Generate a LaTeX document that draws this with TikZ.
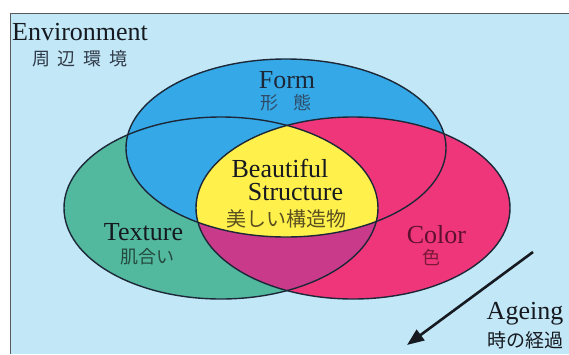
\documentclass[tikz,border=0pt]{standalone}
\usepackage{fontspec}
\setmainfont{Liberation Serif}
\newfontfamily\jp{Noto Sans CJK JP}
\usetikzlibrary{arrows.meta}
\definecolor{bgblue}{HTML}{C2E7F7}
\definecolor{formblue}{HTML}{35A9E8}
\definecolor{texgreen}{HTML}{52B89E}
\definecolor{colred}{HTML}{F0367A}
\definecolor{mixmag}{HTML}{C93A8A}
\definecolor{beauty}{HTML}{FFF04C}
\definecolor{outline}{HTML}{1C2838}
\definecolor{txtdark}{HTML}{161A20}
\definecolor{jpblue}{HTML}{2E4C68}
\definecolor{jpgreen}{HTML}{244A3E}
\definecolor{jpred}{HTML}{7A1838}
\definecolor{jpyel}{HTML}{5A5020}
\definecolor{jpbg}{HTML}{303A48}
\definecolor{colortxt}{HTML}{5E1030}
\begin{document}
\begin{tikzpicture}[x=1pt,y=-1pt,
  lab/.style={font=\fontsize{26}{28}\selectfont, inner sep=0pt, text=txtdark},
  jlab/.style={font=\jp\fontsize{18}{20}\selectfont, inner sep=0pt},
  rim/.style={draw=outline, line width=1.4pt}]
\useasboundingbox (0,0) rectangle (569,354);
% background
\fill[white] (0,0) rectangle (569,354);
\fill[bgblue] (10,13) rectangle (569,354);
\draw[gray!70!black, line width=1pt] (10,354) -- (10,13) -- (569,13);
% ellipses
\fill[texgreen] (221,208) ellipse [x radius=157pt, y radius=91pt];
\fill[formblue] (286,148) ellipse [x radius=160pt, y radius=89pt];
\fill[colred] (353,208) ellipse [x radius=157pt, y radius=91pt];
\begin{scope}
  \clip (221,208) ellipse [x radius=157pt, y radius=91pt];
  \fill[mixmag] (353,208) ellipse [x radius=157pt, y radius=91pt];
  \clip (353,208) ellipse [x radius=157pt, y radius=91pt];
  \fill[beauty] (286,148) ellipse [x radius=160pt, y radius=89pt];
\end{scope}
\draw[rim] (221,208) ellipse [x radius=157pt, y radius=91pt];
\draw[rim] (353,208) ellipse [x radius=157pt, y radius=91pt];
\draw[rim] (286,148) ellipse [x radius=160pt, y radius=89pt];
% labels
\node[lab, anchor=base west] (env) at (12,40) {Environment};
\node[jlab, text=jpbg] (envj) at (80,59) {周\hspace{8pt}辺\hspace{8pt}環\hspace{8pt}境};
\node[lab, anchor=base, text=outline] (form) at (287,88) {Form};
\node[jlab, text=jpblue] (formj) at (286,103) {形\hspace{15pt}態};
\node[lab, anchor=base] (beau) at (280,177) {Beautiful};
\node[lab, anchor=base] (struc) at (295.5,200) {Structure};
\node[jlab, text=jpyel, font=\jp\fontsize{20}{22}\selectfont] (beauj) at (286,219) {美しい構造物};
\node[lab, anchor=base, text=txtdark] (tex) at (143.5,240) {Texture};
\node[jlab, text=jpgreen] (texj) at (147,257) {肌合い};
\node[lab, anchor=base, text=colortxt] (col) at (436.5,243) {Color};
\node[jlab, text=jpred] (colj) at (431,258) {色};
\node[lab, anchor=base] (age) at (525,319) {Ageing};
\node[jlab, text=txtdark, font=\jp\fontsize{19}{21}\selectfont] (agej) at (525,340) {時の経過};
% arrow
\coordinate (astart) at (533,252);
\coordinate (aend) at (407,345);
\draw[line width=2.6pt, draw=txtdark, -{Triangle[length=17pt,width=13pt]}] (astart) -- (aend);
\end{tikzpicture}
\end{document}
